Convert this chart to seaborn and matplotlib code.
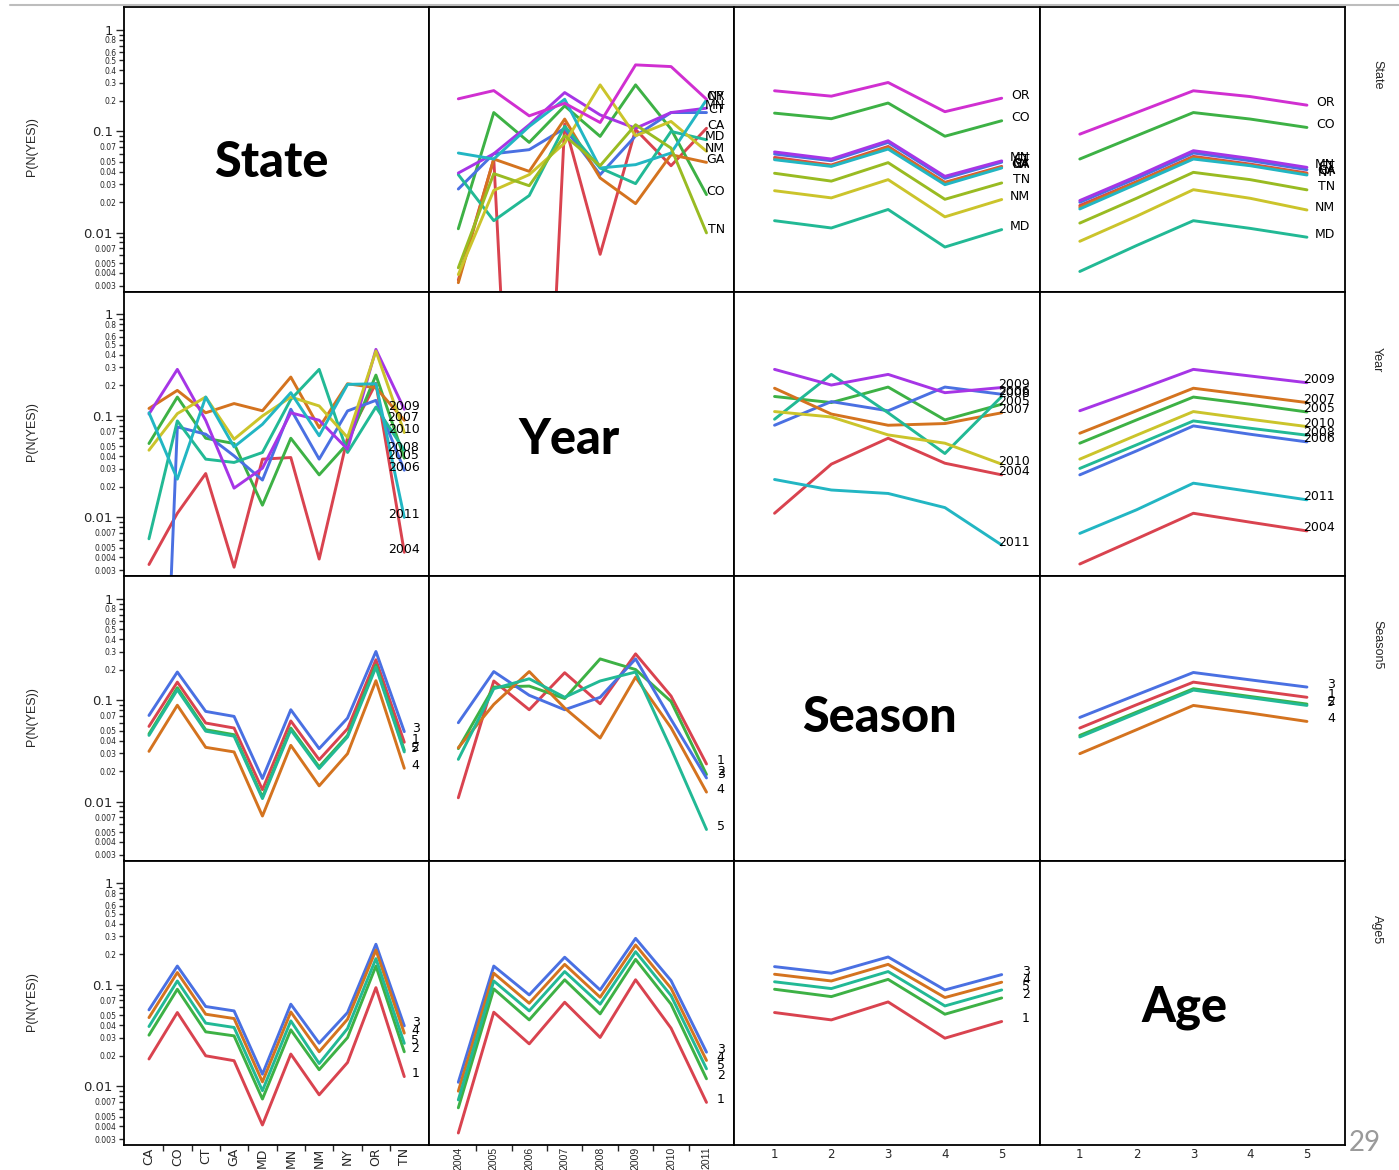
import matplotlib
matplotlib.use("Agg")
import matplotlib.pyplot as plt
import matplotlib.transforms as mtransforms
from matplotlib.lines import Line2D
from matplotlib.ticker import FixedLocator, FuncFormatter, NullLocator
import numpy as np
import pandas as pd
import seaborn as sns

# ---------------- data ----------------
states = ["CA", "CO", "CT", "GA", "MD", "MN", "NM", "NY", "OR", "TN"]
years = ["2004", "2005", "2006", "2007", "2008", "2009", "2010", "2011"]
seasons = ["1", "2", "3", "4", "5"]
ages = ["1", "2", "3", "4", "5"]

# State x Year (rows: states, cols: years)
state_year = [
    [0.0034, 0.0532, 1e-8, 0.118, 0.0061, 0.104, 0.0457, 0.107],
    [0.0109, 0.153, 0.0776, 0.178, 0.089, 0.287, 0.105, 0.0237],
    [0.0269, 0.060, 0.0658, 0.107, 0.0373, 0.090, 0.153, 0.153],
    [0.0032, 0.0532, 0.0402, 0.132, 0.0346, 0.0193, 0.0587, 0.0493],
    [0.0373, 0.0131, 0.0232, 0.112, 0.0434, 0.0304, 0.0996, 0.0824],
    [0.0387, 0.060, 0.116, 0.241, 0.145, 0.107, 0.153, 0.169],
    [0.00385, 0.0261, 0.0373, 0.0764, 0.287, 0.0903, 0.125, 0.0635],
    [0.061, 0.0532, 0.1116, 0.207, 0.0434, 0.0468, 0.061, 0.204],
    [0.209, 0.252, 0.142, 0.189, 0.122, 0.452, 0.435, 0.207],
    [0.00449, 0.0382, 0.029, 0.0903, 0.0457, 0.116, 0.0683, 0.00993],
]

# State x Season (rows: states, cols: seasons 1..5)
state_season = [
    [0.0552, 0.0465, 0.0708, 0.0313, 0.0450],
    [0.151, 0.133, 0.190, 0.0893, 0.127],
    [0.0596, 0.0512, 0.0776, 0.0343, 0.0495],
    [0.0532, 0.0457, 0.0693, 0.0309, 0.0442],
    [0.0131, 0.0111, 0.0169, 0.0072, 0.0107],
    [0.0625, 0.0532, 0.0806, 0.0359, 0.0510],
    [0.0259, 0.0220, 0.0333, 0.0143, 0.0212],
    [0.0524, 0.0450, 0.0667, 0.0297, 0.0434],
    [0.251, 0.222, 0.303, 0.156, 0.212],
    [0.0385, 0.0322, 0.0490, 0.0213, 0.0309],
]

# State x Age (rows: states, cols: ages 1..5)
state_age = [
    [0.0185, 0.0318, 0.0565, 0.0474, 0.0387],
    [0.0532, 0.0903, 0.153, 0.132, 0.109],
    [0.0199, 0.0343, 0.0610, 0.0512, 0.0418],
    [0.0178, 0.0313, 0.0552, 0.0464, 0.0379],
    [0.00413, 0.00745, 0.0131, 0.0110, 0.0090],
    [0.0207, 0.0359, 0.0643, 0.0539, 0.0440],
    [0.0082, 0.0145, 0.0265, 0.0218, 0.0167],
    [0.0171, 0.0301, 0.0532, 0.0457, 0.0370],
    [0.0936, 0.153, 0.251, 0.220, 0.181],
    [0.0124, 0.0218, 0.0393, 0.0333, 0.0264],
]

# Year x Season (rows: years, cols: seasons 1..5)
year_season = [
    [0.0109, 0.0333, 0.060, 0.0340, 0.0261],
    [0.155, 0.135, 0.192, 0.0910, 0.130],
    [0.0806, 0.138, 0.112, 0.192, 0.163],
    [0.187, 0.104, 0.0806, 0.0838, 0.107],
    [0.0924, 0.256, 0.107, 0.0424, 0.155],
    [0.287, 0.201, 0.256, 0.169, 0.190],
    [0.110, 0.0973, 0.0647, 0.0536, 0.0333],
    [0.0235, 0.0185, 0.0171, 0.0124, 0.0053],
]

# Year x Age (rows: years, cols: ages 1..5)
year_age = [
    [0.00344, 0.0061, 0.0109, 0.0089, 0.0073],
    [0.0536, 0.0910, 0.153, 0.130, 0.109],
    [0.0261, 0.0450, 0.0794, 0.0657, 0.0552],
    [0.0672, 0.112, 0.187, 0.159, 0.135],
    [0.0302, 0.0516, 0.0889, 0.0753, 0.0643],
    [0.112, 0.178, 0.287, 0.247, 0.212],
    [0.0373, 0.0643, 0.110, 0.0924, 0.0782],
    [0.0069, 0.0118, 0.0216, 0.0179, 0.0148],
]

# Season x Age (rows: seasons 1..5, cols: ages 1..5)
season_age = [
    [0.0532, 0.0903, 0.151, 0.127, 0.107],
    [0.0450, 0.0764, 0.130, 0.109, 0.0917],
    [0.0677, 0.113, 0.188, 0.159, 0.135],
    [0.0297, 0.0512, 0.0889, 0.0748, 0.0618],
    [0.0434, 0.0741, 0.126, 0.106, 0.0889],
]

ytick_major = [1, 0.1, 0.01]
ytick_major_labels = ["1", "0.1", "0.01"]
ytick_minor = [0.9, 0.8, 0.7, 0.6, 0.5, 0.4, 0.3, 0.2,
               0.09, 0.08, 0.07, 0.06, 0.05, 0.04, 0.03, 0.02,
               0.009, 0.008, 0.007, 0.006, 0.005, 0.004, 0.003]
ytick_minor_labels = {0.8: "0.8", 0.6: "0.6", 0.5: "0.5", 0.4: "0.4", 0.3: "0.3",
                      0.2: "0.2", 0.07: "0.07", 0.05: "0.05", 0.04: "0.04",
                      0.03: "0.03", 0.02: "0.02", 0.007: "0.007", 0.005: "0.005",
                      0.004: "0.004", 0.003: "0.003"}

# ---------------- colours ----------------
c_red, c_green, c_blue, c_orange = "#d9434f", "#3db145", "#4a70e2", "#d4731f"
c_teal, c_purple, c_yellow, c_cyan = "#22b995", "#a635e6", "#cbc42b", "#22b6c3"
c_magenta, c_ygreen = "#d02fd1", "#99bb22"

state_colors = [c_red, c_green, c_blue, c_orange, c_teal, c_purple, c_yellow,
                c_cyan, c_magenta, c_ygreen]
year_colors = [c_red, c_green, c_blue, c_orange, c_teal, c_purple, c_yellow, c_cyan]
five_colors = [c_red, c_green, c_blue, c_orange, c_teal]

factors = ["State", "Year", "Season", "Age"]
levels = {"State": states, "Year": years, "Season": seasons, "Age": ages}
colors = {"State": state_colors, "Year": year_colors, "Season": five_colors, "Age": five_colors}
strip_labels = ["State", "Year", "Season5", "Age5"]
tables = {("State", "Year"): state_year, ("State", "Season"): state_season,
          ("State", "Age"): state_age, ("Year", "Season"): year_season,
          ("Year", "Age"): year_age, ("Season", "Age"): season_age}


def get_table(rf, cf):
    if (rf, cf) in tables:
        return np.array(tables[(rf, cf)], dtype=float)
    return np.array(tables[(cf, rf)], dtype=float).T


# ---------------- figure ----------------
sns.set_style("white")
plt.rcParams["font.family"] = ["DejaVu Sans"]
narrow = ["Liberation Sans Narrow", "Liberation Sans", "DejaVu Sans"]

W, H = 1399, 1170
fig, axes = plt.subplots(4, 4, figsize=(W / 100, H / 100), dpi=100,
                         gridspec_kw=dict(wspace=0, hspace=0))
fig.subplots_adjust(left=124 / W, right=1345 / W, top=1 - 7 / H, bottom=1 - 1145 / H)

xlims = {"State": (-0.88, 9.88), "Year": (-0.82, 7.79),
         "Season": (-0.705, 4.67), "Age": (-0.705, 4.67)}
title_pos = {"State": (0.484, 0.453), "Year": (0.459, 0.479),
             "Season": (0.475, 0.502), "Age": (0.475, 0.482)}
title_text = {"State": "State", "Year": "Year", "Season": "Season", "Age": "Age"}

def minor_fmt(v, pos):
    for k, s in ytick_minor_labels.items():
        if abs(v - k) < 1e-9:
            return s
    return ""

for r, rf in enumerate(factors):
    for c, cf in enumerate(factors):
        ax = axes[r, c]
        ax.set_yscale("log")
        ax.set_ylim(0.00262, 1.685)
        ax.set_xlim(*xlims[cf])
        if r == c:
            tx, ty = title_pos[rf]
            ax.text(tx, ty, title_text[rf], transform=ax.transAxes, ha="center",
                    va="center", fontsize=35, fontweight="black",
                    family=["Lato", "DejaVu Sans"], color="black")
        else:
            vals = get_table(rf, cf)
            lv = levels[rf]
            xl = levels[cf]
            df = pd.DataFrame({
                "level": np.repeat(lv, len(xl)),
                "x": np.tile(np.arange(len(xl)), len(lv)),
                "p": vals.ravel(),
            })
            sns.lineplot(data=df, x="x", y="p", hue="level", hue_order=lv,
                         palette=colors[rf], estimator=None, sort=False,
                         legend=False, linewidth=2.1, ax=ax)
            trans = mtransforms.offset_copy(
                mtransforms.blended_transform_factory(ax.transAxes, ax.transData),
                fig=fig, x=0, y=3, units="dots")
            for name, row in zip(lv, vals):
                ax.text(0.968, row[-1], name, transform=trans, ha="right",
                        va="center", fontsize=9, color="black")
        ax.set_xlabel("")
        ax.set_ylabel("")
        for sp in ax.spines.values():
            sp.set_color("black")
            sp.set_linewidth(1.3)

        # y ticks
        ax.yaxis.set_major_locator(FixedLocator(ytick_major))
        ax.yaxis.set_minor_locator(FixedLocator(ytick_minor))
        if c == 0:
            ax.yaxis.set_major_formatter(FuncFormatter(
                lambda v, p: dict(zip(ytick_major, ytick_major_labels)).get(v, "")))
            ax.yaxis.set_minor_formatter(FuncFormatter(minor_fmt))
            ax.tick_params(axis="y", which="major", direction="out", length=6,
                           width=1, left=True, labelleft=True, labelsize=9.5, pad=2)
            ax.tick_params(axis="y", which="minor", direction="out", length=3.5,
                           width=1, left=True, labelleft=True, labelsize=5.5, pad=2)
        else:
            ax.tick_params(axis="y", which="both", left=False, labelleft=False)

        # x ticks
        n = len(levels[cf])
        if r == 3:
            ax.set_xticks(np.arange(n))
            if cf in ("State", "Year"):
                if cf == "State":
                    ax.set_xticklabels(levels[cf], rotation=90, fontsize=9)
                    ax.tick_params(axis="x", which="major", length=0, pad=2)
                else:
                    ax.set_xticklabels(levels[cf], rotation=90, fontsize=7.5,
                                       family=["Liberation Sans", "DejaVu Sans"])
                    ax.tick_params(axis="x", which="major", length=0, pad=1)
                ax.xaxis.set_minor_locator(FixedLocator(np.arange(n - 1) + 0.5))
                ax.tick_params(axis="x", which="minor", direction="out",
                               length=4, width=1, bottom=True)
            else:
                ax.set_xticklabels(levels[cf], fontsize=8.5)
                ax.xaxis.set_minor_locator(NullLocator())
                ax.tick_params(axis="x", which="major", length=0, pad=2)
        else:
            ax.set_xticks([])
            ax.xaxis.set_minor_locator(NullLocator())

    # row labels
    yc = 1 - (147 + 285 * r) / H
    fig.text(32 / W, yc, "P(N(YES))", rotation=90, ha="center", va="center",
             fontsize=9, family=narrow)
    fig.text(1377 / W, 1 - (75 + 285 * r) / H, strip_labels[r], rotation=-90,
             ha="center", va="center", fontsize=9, family=narrow)

# slide decorations
fig.add_artist(Line2D([10 / W, 1], [1 - 5 / H, 1 - 5 / H], color="#bdbdbd", lw=1.5))
fig.text(1365 / W, 1 - 1143 / H, "29", ha="center", va="center", fontsize=20,
         color="#9a9a9a", family=["Lato", "DejaVu Sans"])

fig.savefig("out.png", dpi=100)
